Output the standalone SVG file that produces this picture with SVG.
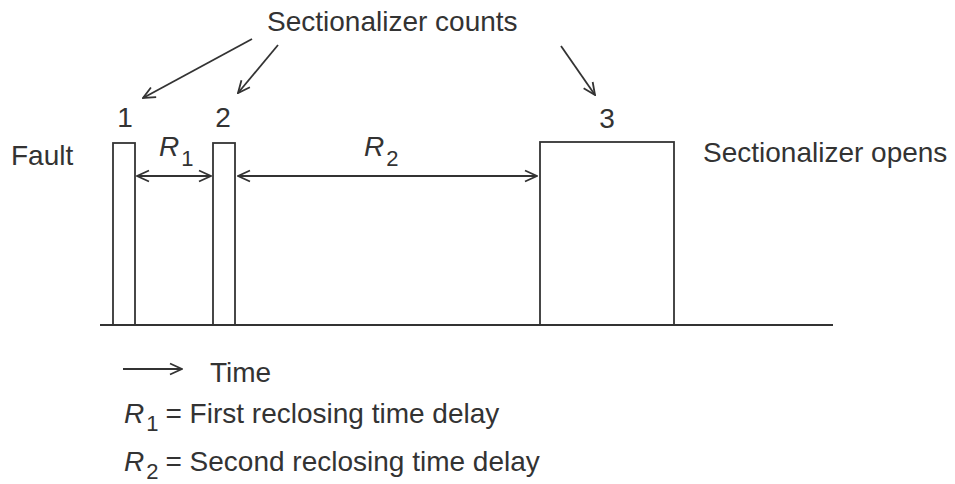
<svg xmlns="http://www.w3.org/2000/svg" width="955" height="484" viewBox="0 0 955 484">
<defs>
<style>
.ln{stroke:#333;stroke-width:1.8;fill:none}
.t{font-family:"Liberation Sans",Arial,sans-serif;font-size:28px;fill:#333}
.i{font-style:italic}
.s{font-size:22px}
</style>
<marker id="ah" viewBox="0 0 14 14" refX="13" refY="7" markerWidth="14" markerHeight="14" markerUnits="userSpaceOnUse" orient="auto-start-reverse">
<path d="M1,1.5 L13,7 L1,12.5" fill="none" stroke="#333" stroke-width="1.8"/>
</marker>
</defs>
<rect width="955" height="484" fill="#fff"/>
<g id="baseline"><line class="ln" x1="100" y1="325" x2="833" y2="325"/></g>
<g id="pulse1"><rect class="ln" x="113" y="143" width="22" height="182"/><text class="t" x="125" y="127" text-anchor="middle">1</text></g>
<g id="pulse2"><rect class="ln" x="213" y="143" width="22" height="182"/><text class="t" x="223" y="127" text-anchor="middle">2</text></g>
<g id="pulse3"><rect class="ln" x="540" y="142" width="134" height="183"/><text class="t" x="607" y="128" text-anchor="middle">3</text></g>
<g id="fault"><text class="t" x="11" y="165">Fault</text></g>
<g id="opens"><text class="t" x="703" y="162">Sectionalizer opens</text></g>
<g id="counts"><text class="t" x="267" y="31">Sectionalizer counts</text></g>
<g id="r1label"><text class="t i" x="159" y="156">R<tspan class="s" dx="2" dy="10" font-style="normal">1</tspan></text></g>
<g id="r2label"><text class="t i" x="364" y="156">R<tspan class="s" dx="2" dy="10" font-style="normal">2</tspan></text></g>
<g id="connectors">
<line class="ln" x1="137" y1="176" x2="211" y2="176" marker-start="url(#ah)" marker-end="url(#ah)"/>
<line class="ln" x1="238" y1="176" x2="537" y2="176" marker-start="url(#ah)" marker-end="url(#ah)"/>
<line class="ln" x1="252" y1="39" x2="143" y2="98" marker-end="url(#ah)"/>
<line class="ln" x1="278" y1="45" x2="238" y2="93" marker-end="url(#ah)"/>
<line class="ln" x1="561" y1="46" x2="595" y2="95" marker-end="url(#ah)"/>
<line class="ln" x1="123" y1="369" x2="182" y2="369" marker-end="url(#ah)"/>
</g>
<g id="legend">
<text class="t" x="210" y="382">Time</text>
<text class="t" x="124" y="423"><tspan class="i">R</tspan><tspan class="s" dx="2" dy="8">1</tspan><tspan dx="7" dy="-8">= First reclosing time delay</tspan></text>
<text class="t" x="124" y="471"><tspan class="i">R</tspan><tspan class="s" dx="2" dy="8">2</tspan><tspan dx="7" dy="-8">= Second reclosing time delay</tspan></text>
</g>
</svg>
